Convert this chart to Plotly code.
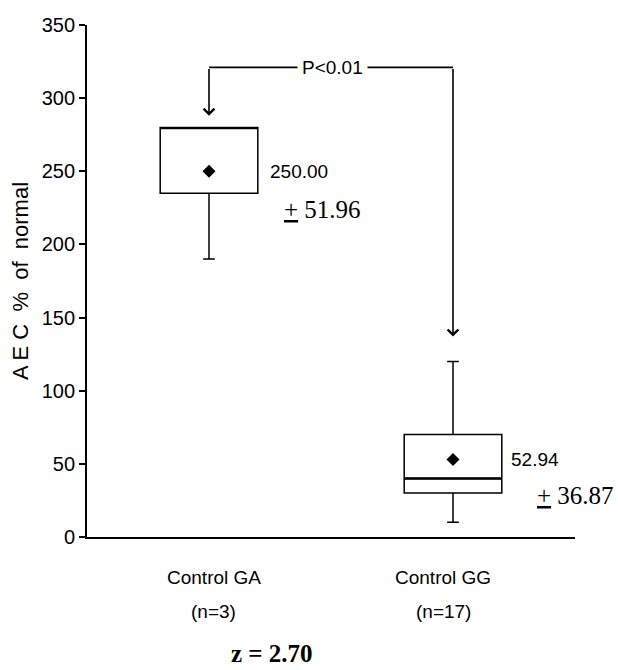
import plotly.graph_objects as go

groups = ["Control GA", "Control GG"]
group_n = ["(n=3)", "(n=17)"]
x_pos = [1, 2]
q1 = [235, 30]
median = [280, 40]
q3 = [280, 70]
lower = [190, 10]
upper = [280, 120]
means = [250.00, 52.94]
sds = [51.96, 36.87]
y_ticks = [0, 50, 100, 150, 200, 250, 300, 350]

SANS = "Liberation Sans, Arial, sans-serif"
SERIF = "Liberation Serif, Times New Roman, serif"

fig = go.Figure()
for i in range(2):
    fig.add_trace(go.Box(
        x=[x_pos[i]], q1=[q1[i]], median=[median[i]], q3=[q3[i]],
        lowerfence=[lower[i]], upperfence=[upper[i]],
        width=0.4, whiskerwidth=0.12,
        fillcolor="white", line=dict(color="black", width=1.5),
        boxpoints=False, showlegend=False, hoverinfo="skip",
    ))
    if median[i] != q3[i]:
        fig.add_shape(type="line", x0=x_pos[i] - 0.2, x1=x_pos[i] + 0.2,
                      y0=median[i], y1=median[i], xref="x", yref="y",
                      line=dict(color="black", width=2.6))
fig.add_trace(go.Scatter(
    x=x_pos, y=means, mode="markers",
    marker=dict(symbol="diamond", size=10, color="black"),
    showlegend=False, hoverinfo="skip",
))

# mean and sd labels
mean_lbl_x = [1.24, 2.23]
sd_lbl_x = [1.30, 2.335]
sd_lbl_y = [224, 28.5]
for i in range(2):
    fig.add_annotation(x=mean_lbl_x[i], y=means[i], xref="x", yref="y",
                       text=f"{means[i]:.2f}", showarrow=False, xanchor="left",
                       font=dict(family=SANS, size=19, color="black"))
    fig.add_annotation(x=sd_lbl_x[i], y=sd_lbl_y[i], xref="x", yref="y",
                       text=f"<u>+</u> {sds[i]:.2f}", showarrow=False, xanchor="left",
                       font=dict(family=SERIF, size=25, color="black"))

# significance bracket
bracket_y = 321
fig.add_shape(type="line", x0=1, x1=2, y0=bracket_y, y1=bracket_y, xref="x", yref="y",
              line=dict(color="black", width=1.8))
fig.add_annotation(x=1, y=288, ax=1, ay=bracket_y, xref="x", yref="y", axref="x", ayref="y",
                   showarrow=True, arrowhead=4, arrowsize=1.3, arrowwidth=1.6,
                   arrowcolor="black", text="")
fig.add_annotation(x=2, y=137, ax=2, ay=bracket_y, xref="x", yref="y", axref="x", ayref="y",
                   showarrow=True, arrowhead=4, arrowsize=1.3, arrowwidth=1.6,
                   arrowcolor="black", text="")
fig.add_annotation(x=1.505, y=bracket_y, xref="x", yref="y", text="P<0.01",
                   showarrow=False, bgcolor="white", borderpad=4,
                   font=dict(family=SANS, size=19, color="black"))

# category labels
cat_lbl_x = [1.02, 1.96]
for i in range(2):
    fig.add_annotation(x=cat_lbl_x[i], y=-0.080, xref="x", yref="paper",
                       text=groups[i], showarrow=False, yanchor="middle",
                       font=dict(family=SANS, size=19, color="black"))
    fig.add_annotation(x=cat_lbl_x[i], y=-0.145, xref="x", yref="paper",
                       text=group_n[i], showarrow=False, yanchor="middle",
                       font=dict(family=SANS, size=19, color="black"))
fig.add_annotation(x=0.38, y=-0.2285, xref="paper", yref="paper",
                   text="<b>z = 2.70</b>", showarrow=False, yanchor="middle",
                   font=dict(family=SERIF, size=25, color="black"))

fig.update_layout(
    width=618, height=670,
    margin=dict(l=87, r=43, t=25, b=133),
    paper_bgcolor="white", plot_bgcolor="white",
    xaxis=dict(range=[0.5, 2.5], showticklabels=False, ticks="", showgrid=False,
               zeroline=False, showline=True, linecolor="black", linewidth=1.8),
    yaxis=dict(range=[0, 350], tickvals=y_ticks, ticks="outside", ticklen=6,
               tickwidth=1.5, tickcolor="black", showgrid=False, zeroline=False,
               showline=True, linecolor="black", linewidth=1.8,
               tickfont=dict(family=SANS, size=20, color="black"),
               title=dict(text="A E C  %  of  normal", standoff=7,
                          font=dict(family=SANS, size=22, color="black"))),
)

fig.write_html("out.html")
